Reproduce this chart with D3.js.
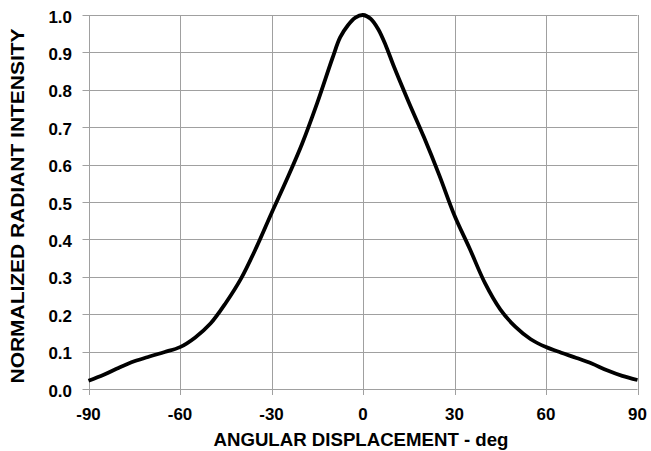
<!DOCTYPE html>
<html><head><meta charset="utf-8">
<script src="https://cdn.jsdelivr.net/npm/d3@7"></script>
<style>body{margin:0;background:#fff}svg{display:block}text{font-family:"Liberation Sans",Arial,sans-serif;font-weight:bold;fill:#000}</style>
</head><body><svg id="c" width="651" height="451"></svg>
<script>
const angles = [-90,-85,-80,-75,-70,-65,-60,-55,-50,-45,-40,-35,-30,-25,-20,-15,-10,-7.5,-5,-2.5,0,2.5,5,7.5,10,15,20,25,30,35,40,45,50,55,60,65,70,75,80,85,90];
const intensity = [0.022,0.038,0.057,0.074,0.087,0.099,0.112,0.138,0.175,0.230,0.295,0.378,0.470,0.560,0.655,0.765,0.885,0.940,0.972,0.993,1.000,0.990,0.962,0.918,0.865,0.767,0.673,0.572,0.464,0.375,0.283,0.213,0.166,0.133,0.112,0.097,0.083,0.068,0.050,0.035,0.024];
const xTicks = [-90,-60,-30,0,30,60,90];
const yTicks = [0,0.1,0.2,0.3,0.4,0.5,0.6,0.7,0.8,0.9,1.0];

const svg = d3.select("#c");
const L=88.5,R=637.5,T=15,B=389;
const x = d3.scaleLinear().domain([-90,90]).range([L,R]);
const y = d3.scaleLinear().domain([0,1]).range([B,T]);
const grid="#a0a0a0";
const g = svg.append("g");
g.selectAll("line.h").data(yTicks).join("line")
 .attr("x1",L-6).attr("x2",R).attr("y1",d=>Math.round(y(d))+0.5).attr("y2",d=>Math.round(y(d))+0.5)
 .attr("stroke",grid).attr("stroke-width",1);
g.selectAll("line.v").data(xTicks).join("line")
 .attr("y1",T).attr("y2",B+6).attr("x1",d=>Math.round(x(d))+0.5).attr("x2",d=>Math.round(x(d))+0.5)
 .attr("stroke",grid).attr("stroke-width",1);
const sx = 1.06;
g.selectAll("text.yt").data(yTicks).join("text")
 .attr("transform",d=>`translate(72,${y(d)+7.5}) scale(${sx},1)`)
 .attr("text-anchor","end").attr("font-size",16).text(d=>d.toFixed(1));
g.selectAll("text.xt").data(xTicks).join("text")
 .attr("transform",d=>`translate(${x(d)},420) scale(${sx},1)`)
 .attr("text-anchor","middle").attr("font-size",16).text(d=>d);
const line = d3.line().x((d,i)=>x(angles[i])).y(d=>y(d)).curve(d3.curveCatmullRom.alpha(0.5));
svg.append("path").attr("d",line(intensity)).attr("fill","none").attr("stroke","#000").attr("stroke-width",3.8).attr("stroke-linejoin","round");
svg.append("text").attr("x",361).attr("y",445.5).attr("text-anchor","middle").attr("font-size",18)
 .attr("textLength",295).attr("lengthAdjust","spacingAndGlyphs").text("ANGULAR DISPLACEMENT - deg");
svg.append("text").attr("transform",`translate(23.5,${(T+B)/2+4}) rotate(-90)`).attr("text-anchor","middle").attr("font-size",18)
 .attr("textLength",355).attr("lengthAdjust","spacingAndGlyphs").text("NORMALIZED RADIANT INTENSITY");
</script></body></html>
